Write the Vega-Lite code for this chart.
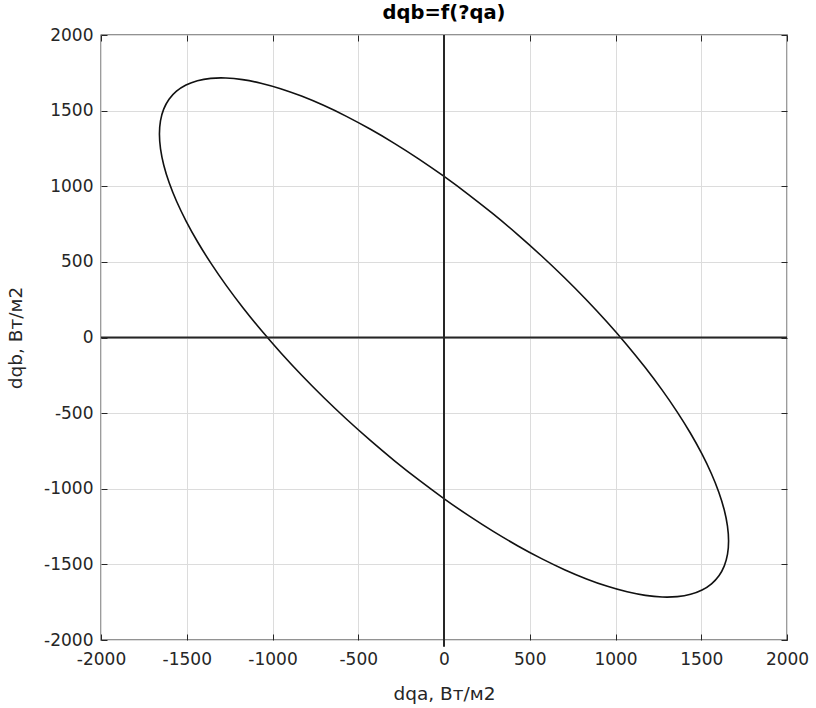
{
  "$schema": "https://vega.github.io/schema/vega-lite/v6.json",
  "autosize": {"type": "none"},
  "width": 686,
  "height": 605,
  "padding": {"left": 101, "top": 35, "right": 29, "bottom": 68},
  "background": "white",
  "title": {
    "text": "dqb=f(?qa)",
    "font": "DejaVu Sans",
    "fontSize": 19.5,
    "fontWeight": "bold",
    "color": "#000000",
    "anchor": "middle",
    "offset": 3
  },
  "config": {
    "font": "DejaVu Sans",
    "view": {"stroke": "#262626", "strokeWidth": 1.3},
    "axis": {
      "domain": false,
      "tickColor": "#262626",
      "tickWidth": 1,
      "tickSize": -6,
      "labelFont": "DejaVu Sans",
      "labelFontSize": 17,
      "labelColor": "#262626",
      "labelFlush": false,
      "labelOverlap": false,
      "labelExpr": "datum.value + ''",
      "titleFont": "DejaVu Sans",
      "titleFontSize": 18.5,
      "titleFontWeight": "normal",
      "titleColor": "#262626",
      "gridColor": "#dcdcdc",
      "gridWidth": 1
    }
  },
  "datasets": {
    "ellipse": [
      {"i": 0, "dqa": 1559.8, "dqb": -1628.6},
      {"i": 1, "dqa": 1603.2, "dqb": -1575.1},
      {"i": 2, "dqa": 1634.4, "dqb": -1509.7},
      {"i": 3, "dqa": 1653.2, "dqb": -1432.8},
      {"i": 4, "dqa": 1659.3, "dqb": -1345.0},
      {"i": 5, "dqa": 1652.9, "dqb": -1246.9},
      {"i": 6, "dqa": 1633.9, "dqb": -1139.3},
      {"i": 7, "dqa": 1602.4, "dqb": -1023.1},
      {"i": 8, "dqa": 1558.8, "dqb": -899.1},
      {"i": 9, "dqa": 1503.2, "dqb": -768.2},
      {"i": 10, "dqa": 1436.3, "dqb": -631.4},
      {"i": 11, "dqa": 1358.4, "dqb": -490.0},
      {"i": 12, "dqa": 1270.2, "dqb": -344.7},
      {"i": 13, "dqa": 1172.3, "dqb": -196.9},
      {"i": 14, "dqa": 1065.5, "dqb": -47.5},
      {"i": 15, "dqa": 950.5, "dqb": 102.2},
      {"i": 16, "dqa": 828.4, "dqb": 251.2},
      {"i": 17, "dqa": 699.9, "dqb": 398.2},
      {"i": 18, "dqa": 566.1, "dqb": 542.2},
      {"i": 19, "dqa": 427.9, "dqb": 682.0},
      {"i": 20, "dqa": 286.6, "dqb": 816.8},
      {"i": 21, "dqa": 143.1, "dqb": 945.2},
      {"i": 22, "dqa": -1.5, "dqb": 1066.5},
      {"i": 23, "dqa": -146.1, "dqb": 1179.7},
      {"i": 24, "dqa": -289.6, "dqb": 1283.9},
      {"i": 25, "dqa": -431.0, "dqb": 1378.2},
      {"i": 26, "dqa": -568.9, "dqb": 1462.2},
      {"i": 27, "dqa": -702.6, "dqb": 1535.0},
      {"i": 28, "dqa": -831.0, "dqb": 1596.1},
      {"i": 29, "dqa": -953.0, "dqb": 1645.1},
      {"i": 30, "dqa": -1067.7, "dqb": 1681.5},
      {"i": 31, "dqa": -1174.5, "dqb": 1705.1},
      {"i": 32, "dqa": -1272.1, "dqb": 1715.8},
      {"i": 33, "dqa": -1360.2, "dqb": 1713.4},
      {"i": 34, "dqa": -1437.8, "dqb": 1698.1},
      {"i": 35, "dqa": -1504.6, "dqb": 1669.7},
      {"i": 36, "dqa": -1559.8, "dqb": 1628.6},
      {"i": 37, "dqa": -1603.2, "dqb": 1575.1},
      {"i": 38, "dqa": -1634.4, "dqb": 1509.7},
      {"i": 39, "dqa": -1653.2, "dqb": 1432.8},
      {"i": 40, "dqa": -1659.3, "dqb": 1345.0},
      {"i": 41, "dqa": -1652.9, "dqb": 1246.9},
      {"i": 42, "dqa": -1633.9, "dqb": 1139.3},
      {"i": 43, "dqa": -1602.4, "dqb": 1023.1},
      {"i": 44, "dqa": -1558.8, "dqb": 899.1},
      {"i": 45, "dqa": -1503.2, "dqb": 768.2},
      {"i": 46, "dqa": -1436.3, "dqb": 631.4},
      {"i": 47, "dqa": -1358.4, "dqb": 490.0},
      {"i": 48, "dqa": -1270.2, "dqb": 344.7},
      {"i": 49, "dqa": -1172.3, "dqb": 196.9},
      {"i": 50, "dqa": -1065.5, "dqb": 47.5},
      {"i": 51, "dqa": -950.5, "dqb": -102.2},
      {"i": 52, "dqa": -828.4, "dqb": -251.2},
      {"i": 53, "dqa": -699.9, "dqb": -398.2},
      {"i": 54, "dqa": -566.1, "dqb": -542.2},
      {"i": 55, "dqa": -427.9, "dqb": -682.0},
      {"i": 56, "dqa": -286.6, "dqb": -816.8},
      {"i": 57, "dqa": -143.1, "dqb": -945.2},
      {"i": 58, "dqa": 1.5, "dqb": -1066.5},
      {"i": 59, "dqa": 146.1, "dqb": -1179.7},
      {"i": 60, "dqa": 289.6, "dqb": -1283.9},
      {"i": 61, "dqa": 431.0, "dqb": -1378.2},
      {"i": 62, "dqa": 568.9, "dqb": -1462.2},
      {"i": 63, "dqa": 702.6, "dqb": -1535.0},
      {"i": 64, "dqa": 831.0, "dqb": -1596.1},
      {"i": 65, "dqa": 953.0, "dqb": -1645.1},
      {"i": 66, "dqa": 1067.7, "dqb": -1681.5},
      {"i": 67, "dqa": 1174.5, "dqb": -1705.1},
      {"i": 68, "dqa": 1272.1, "dqb": -1715.8},
      {"i": 69, "dqa": 1360.2, "dqb": -1713.4},
      {"i": 70, "dqa": 1437.8, "dqb": -1698.1},
      {"i": 71, "dqa": 1504.6, "dqb": -1669.7}
    ],
    "zeroLines": [
      {"dqa": 0, "dqa2": 0, "dqb": -2045, "dqb2": 2000},
      {"dqa": -2000, "dqa2": 2000, "dqb": 0, "dqb2": 0}
    ]
  },
  "layer": [
    {
      "data": {"name": "ellipse"},
      "mark": {"type": "line", "interpolate": "cardinal-closed", "color": "#111111", "strokeWidth": 1.6},
      "encoding": {
        "order": {"field": "i", "type": "quantitative"},
        "x": {
          "field": "dqa",
          "type": "quantitative",
          "scale": {"domain": [-2000, 2000], "nice": false, "zero": false},
          "axis": {
            "orient": "bottom",
            "title": "dqa, Вт/м2",
            "values": [-2000, -1500, -1000, -500, 0, 500, 1000, 1500, 2000],
            "labelPadding": 17,
            "labelBaseline": "top",
            "titlePadding": 17,
            "grid": true
          }
        },
        "y": {
          "field": "dqb",
          "type": "quantitative",
          "scale": {"domain": [-2000, 2000], "nice": false, "zero": false},
          "axis": {
            "orient": "left",
            "title": "dqb, Вт/м2",
            "values": [-2000, -1500, -1000, -500, 0, 500, 1000, 1500, 2000],
            "labelPadding": 14,
            "titlePadding": 18,
            "grid": true
          }
        }
      }
    },
    {
      "data": {"name": "zeroLines"},
      "mark": {"type": "rule", "color": "#262626", "strokeWidth": 2},
      "encoding": {
        "x": {
          "field": "dqa",
          "type": "quantitative",
          "axis": {
            "orient": "top",
            "values": [-2000, -1500, -1000, -500, 0, 500, 1000, 1500, 2000],
            "labels": false,
            "grid": false,
            "title": null
          }
        },
        "x2": {"field": "dqa2"},
        "y": {
          "field": "dqb",
          "type": "quantitative",
          "axis": {
            "orient": "right",
            "values": [-2000, -1500, -1000, -500, 0, 500, 1000, 1500, 2000],
            "labels": false,
            "grid": false,
            "title": null
          }
        },
        "y2": {"field": "dqb2"}
      }
    }
  ],
  "resolve": {"axis": {"x": "independent", "y": "independent"}}
}
